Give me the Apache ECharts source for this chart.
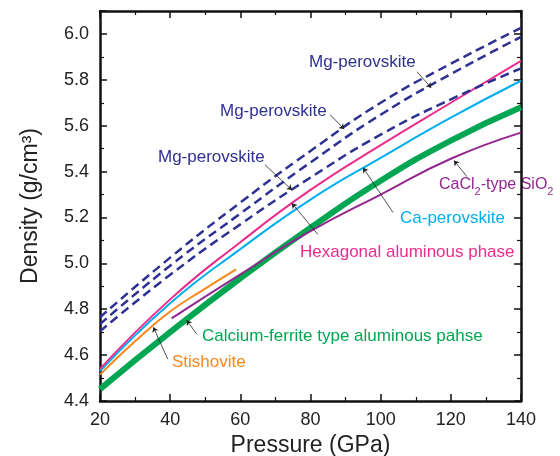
<!DOCTYPE html>
<html>
<head>
<meta charset="utf-8">
<script src="https://cdn.jsdelivr.net/npm/echarts@6/dist/echarts.min.js"></script>
<style>
  html, body { margin: 0; padding: 0; background: #fff; }
  #chart { width: 560px; height: 456px; }
</style>
</head>
<body>
<div id="chart"></div>
<script>
// pressure points (GPa)
var pressure = [20, 40, 60, 80, 100, 120, 140];
var mgPv1 = [4.765, 5.025, 5.265, 5.49, 5.70, 5.87, 6.026];
var mgPv2 = [4.735, 4.99, 5.217, 5.44, 5.648, 5.825, 5.987];
var mgPv3 = [4.704, 4.95, 5.17, 5.374, 5.561, 5.715, 5.85];
var hexAl = [4.54, 4.843, 5.092, 5.32, 5.515, 5.70, 5.883];
var caPv = [4.53, 4.826, 5.062, 5.278, 5.46, 5.635, 5.796];
var cfAl = [4.452, 4.70, 4.935, 5.155, 5.36, 5.535, 5.68];

var stiPressure = [20, 30, 40, 50, 58.8];
var stishovite = [4.515, 4.66, 4.79, 4.89, 4.974];

var cacl2Pressure = [40.4, 60, 80, 100, 120, 140];
var cacl2 = [4.76, 4.952, 5.14, 5.30, 5.456, 5.57];

// leader lines: [from, to] in data coords
var arrows = [
  [[110.4, 5.835], [114.4, 5.765]],
  [[85.6, 5.648], [89.6, 5.585]],
  [[67.0, 5.43], [74.7, 5.32]],
  [[82.1, 5.126], [74.7, 5.262]],
  [[103.5, 5.222], [95.0, 5.417]],
  [[124.6, 5.378], [120.9, 5.448]],
  [[47.6, 4.691], [44.7, 4.752]],
  [[39.3, 4.583], [35.2, 4.722]]
];

function pairs(xs, ys) {
  return xs.map(function (x, i) { return [x, ys[i]]; });
}

var NAVY = '#2e3192';
var FONT = '"Liberation Sans", Arial, sans-serif';

var myChart = echarts.init(document.getElementById('chart'));

function lineSeries(name, xs, ys, color, width, dashed) {
  return {
    name: name,
    type: 'line',
    data: pairs(xs, ys),
    smooth: true,
    showSymbol: false,
    silent: true,
    lineStyle: { color: color, width: width, type: dashed ? [9, 5] : 'solid' },
    z: dashed ? 3 : 2
  };
}

function label(text, x, y, color, size) {
  return {
    type: 'text',
    left: x,
    top: y,
    style: { text: text, fill: color, font: (size || 17) + 'px ' + FONT }
  };
}

var tickCommon = { inside: true, length: 7, lineStyle: { color: '#111', width: 1.5 } };
var minorCommon = { show: true, splitNumber: 2, length: 4, lineStyle: { color: '#111', width: 1.2 } };

var option = {
  animation: false,
  grid: { left: 100, right: 39, top: 11, bottom: 55, containLabel: false, outerBoundsMode: 'none' },
  xAxis: [{
    type: 'value',
    min: 20, max: 140, interval: 20,
    name: 'Pressure (GPa)',
    nameLocation: 'middle',
    nameGap: 31,
    nameTextStyle: { fontSize: 23, color: '#222', fontFamily: FONT },
    axisLine: { lineStyle: { color: '#111', width: 2.5 } },
    axisTick: tickCommon,
    minorTick: minorCommon,
    splitLine: { show: false },
    axisLabel: { fontSize: 18, color: '#222', fontFamily: FONT, margin: 10 }
  }, {
    type: 'value', position: 'top',
    min: 20, max: 140, interval: 20,
    axisLine: { lineStyle: { color: '#111', width: 2.5 } },
    axisTick: tickCommon,
    minorTick: minorCommon,
    splitLine: { show: false },
    axisLabel: { show: false }
  }],
  yAxis: [{
    type: 'value',
    min: 4.4, max: 6.1, interval: 0.2,
    name: 'Density (g/cm³)',
    nameLocation: 'middle',
    nameGap: 58,
    nameTextStyle: { fontSize: 23, color: '#222', fontFamily: FONT },
    axisLine: { lineStyle: { color: '#111', width: 2.5 } },
    axisTick: tickCommon,
    minorTick: minorCommon,
    splitLine: { show: false },
    axisLabel: {
      fontSize: 18, color: '#222', fontFamily: FONT, margin: 11,
      formatter: function (v) { return v > 6.05 ? '' : v.toFixed(1); }
    }
  }, {
    type: 'value', position: 'right',
    min: 4.4, max: 6.1, interval: 0.2,
    axisLine: { lineStyle: { color: '#111', width: 2.5 } },
    axisTick: tickCommon,
    minorTick: minorCommon,
    splitLine: { show: false },
    axisLabel: { show: false }
  }],
  series: [
    lineSeries('Calcium-ferrite', pressure, cfAl, '#00a651', 6, false),
    lineSeries('CaCl2', cacl2Pressure, cacl2, '#92278f', 2, false),
    lineSeries('Stishovite', stiPressure, stishovite, '#f7861d', 2, false),
    lineSeries('Ca-perovskite', pressure, caPv, '#00aeef', 2, false),
    lineSeries('Hexagonal', pressure, hexAl, '#ec2c8c', 2, false),
    lineSeries('Mg-pv 1', pressure, mgPv1, NAVY, 2.5, true),
    lineSeries('Mg-pv 2', pressure, mgPv2, NAVY, 2.5, true),
    lineSeries('Mg-pv 3', pressure, mgPv3, NAVY, 2.5, true),
    {
      type: 'line',
      data: [],
      silent: true,
      markLine: {
        silent: true,
        symbol: ['none', 'arrow'],
        symbolSize: 5,
        label: { show: false },
        lineStyle: { color: '#222', width: 0.8, type: 'solid' },
        data: arrows.map(function (a) {
          return [{ coord: a[0] }, { coord: a[1] }];
        })
      }
    }
  ],
  graphic: [
    label('Mg-perovskite', 309, 54, NAVY),
    label('Mg-perovskite', 220, 103, NAVY),
    label('Mg-perovskite', 158, 149, NAVY),
    label('Hexagonal aluminous phase', 300, 244, '#ec2c8c'),
    label('Ca-perovskite', 400, 210, '#00aeef'),
    {
      type: 'text',
      left: 439,
      top: 173,
      style: {
        text: 'CaCl{s|2}-type SiO{s|2}',
        fill: '#92278f',
        font: '16px ' + FONT,
        lineHeight: 24,
        rich: { s: { fontSize: 11, fontFamily: FONT, fill: '#92278f', lineHeight: 11, verticalAlign: 'bottom' } }
      }
    },
    label('Calcium-ferrite type aluminous pahse', 202, 328, '#00a651'),
    label('Stishovite', 172, 354, '#f7861d')
  ]
};

myChart.setOption(option);
</script>
</body>
</html>
